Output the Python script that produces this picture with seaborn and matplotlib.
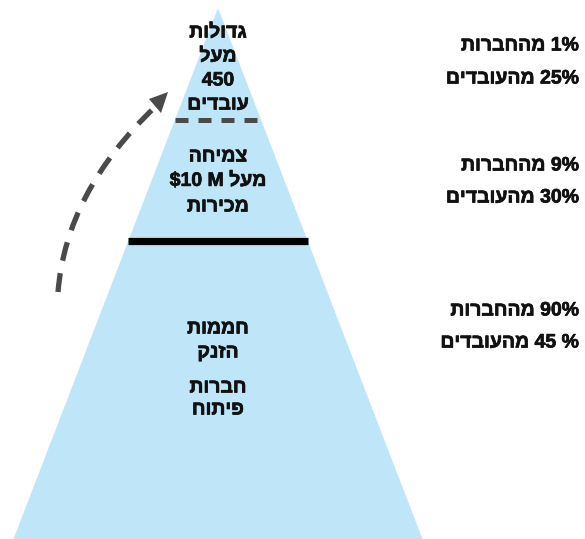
import matplotlib
matplotlib.use("Agg")
import matplotlib.pyplot as plt
import matplotlib.patheffects as pe
import seaborn as sns
from matplotlib.patches import Polygon, PathPatch
from matplotlib.path import Path

# ---- content -------------------------------------------------------------
tier_labels = [
    ["גדולות", "מעל", "450", "עובדים"],
    ["צמיחה", "מעל $10 M", "מכירות"],
    ["חממות", "הזנק", "", "חברות", "פיתוח"],
]
company_share = [1, 9, 90]
employee_share = [25, 30, 45]
company_text = "מהחברות"
employee_text = "מהעובדים"

# ---- style ---------------------------------------------------------------
sns.set_theme(style="white")
plt.rcParams["font.family"] = ["Liberation Sans", "DejaVu Sans"]
plt.rcParams["font.weight"] = "bold"

FILL = "#bee6f8"
DARK = "#4a4a4a"
INK = "#111111"
heavy = [pe.withStroke(linewidth=0.5, foreground=INK)]


def is_hebrew(tok):
    return any("\u0590" <= ch <= "\u05ff" for ch in tok)


def visual(line):
    """Reorder a right-to-left line for left-to-right glyph drawing."""
    runs = []
    for t in line.split(" "):
        kind = is_hebrew(t)
        if runs and runs[-1][0] == kind:
            runs[-1][1].append(t)
        else:
            runs.append([kind, [t]])
    out = []
    for kind, words in reversed(runs):
        if kind:
            out.append(" ".join(w[::-1] for w in reversed(words)))
        else:
            out.append(" ".join(words))
    return " ".join(out)


W, H = 585, 539
fig = plt.figure(figsize=(W / 100, H / 100), dpi=100)
ax = fig.add_axes([0, 0, 1, 1])
ax.set_xlim(0, W)
ax.set_ylim(H, 0)
ax.axis("off")

# pyramid body
apex = (218, 8)
base_y = 539
half_base = 204.5
ax.add_patch(Polygon([apex, (apex[0] - half_base, base_y), (apex[0] + half_base, base_y)],
                     closed=True, facecolor=FILL, edgecolor="none", zorder=1))


def span(y):
    hw = (y - apex[1]) / (base_y - apex[1]) * half_base
    return apex[0] - hw, apex[0] + hw


# tier separators
x0, x1 = span(120)
ax.plot([x0, x1], [120, 120], color=DARK, lw=3.6, dashes=(2.6, 2.0),
        solid_capstyle="butt", dash_capstyle="butt", zorder=3)
x0, x1 = span(241)
ax.plot([x0, x1], [241, 241], color="black", lw=5.2, solid_capstyle="butt", zorder=3)

# growth arrow
curve = Path([(58, 292), (66, 192), (155, 107)], [Path.MOVETO, Path.CURVE3, Path.CURVE3])
ax.add_patch(PathPatch(curve, facecolor="none", edgecolor=DARK, lw=3.8,
                       linestyle=(0, (3.6, 2.4)), capstyle="butt", zorder=3))
ax.add_patch(Polygon([(168, 92), (149, 99), (161, 113)], closed=True,
                     facecolor=DARK, edgecolor="none", zorder=3))

# text inside tiers
fs = 14
block_rows = [[33, 57, 81, 105], [157, 181, 207], [329, 353, 0, 388, 410]]
for lines, ys in zip(tier_labels, block_rows):
    for txt, y in zip(lines, ys):
        if txt:
            ax.text(218, y, visual(txt), ha="center", va="center", fontsize=fs,
                    fontweight="bold", color=INK, zorder=4, path_effects=heavy)

# share labels on the right
right_rows = [(46, 79), (166, 198), (311, 343)]
emp_fmt = ["{}%", "{}%", "{} %"]
for c, e, fmt, (ya, yb) in zip(company_share, employee_share, emp_fmt, right_rows):
    ax.text(579, ya, visual(f"{c}% {company_text}"), ha="right", va="center",
            fontsize=fs, fontweight="bold", color=INK, path_effects=heavy)
    ax.text(579, yb, visual(f"{fmt.format(e)} {employee_text}"), ha="right", va="center",
            fontsize=fs, fontweight="bold", color=INK, path_effects=heavy)

fig.savefig("out.png", dpi=100, facecolor="white")
